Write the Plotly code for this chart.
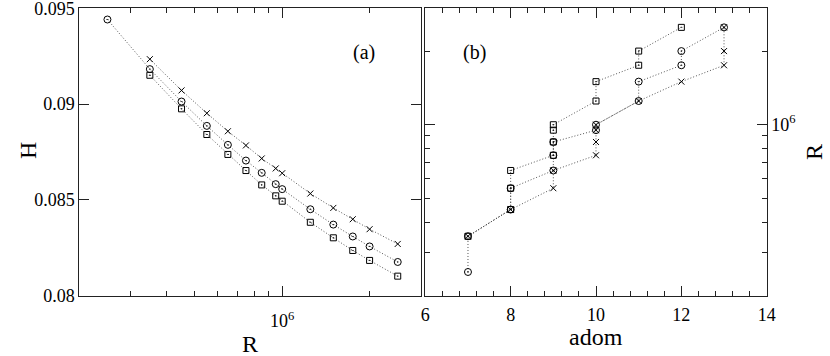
import plotly.graph_objects as go

# R values (shared by both panels)
R_VALUES = [2.5e5, 3.5e5, 4.5e5, 5.5e5, 6.5e5, 7.5e5, 8.5e5, 9.5e5, 1e6,
            1.25e6, 1.5e6, 1.75e6, 2e6, 2.5e6]

# panel (a): H vs R
H_CIRCLE = [0.09441, 0.09182, 0.09013, 0.08886, 0.08787, 0.08705, 0.08641,
            0.08582, 0.08556, 0.08451, 0.08371, 0.08309, 0.08257, 0.08176]
H_CROSS = [0.09234, 0.09071, 0.08952, 0.08858, 0.08784, 0.08716, 0.08664,
           0.08639, 0.08533, 0.08458, 0.08399, 0.08347, 0.08270]
H_SQUARE = [0.09150, 0.08975, 0.08841, 0.08737, 0.08653, 0.08578, 0.08521,
            0.08493, 0.08383, 0.08302, 0.08236, 0.08184, 0.08102]

# panel (b): adom vs R
ADOM_CIRCLE = [7, 7, 8, 8, 9, 9, 9, 10, 10, 11, 11, 12, 12, 13]
ADOM_CROSS = [7, 8, 9, 9, 10, 10, 10, 10, 11, 12, 13, 13, 13]
ADOM_SQUARE = [7, 8, 8, 8, 9, 9, 9, 9, 10, 10, 11, 11, 12]

# ticks
H_TICKS = [0.08, 0.085, 0.09, 0.095]
H_TICK_TEXT = ["0.08", "0.085", "0.09", "0.095"]
R_MAJOR = [1e6]
R_MAJOR_TEXT = ["10<sup>6</sup>"]
R_MINOR = [2e5, 3e5, 4e5, 5e5, 6e5, 7e5, 8e5, 9e5, 2e6, 3e6]
ADOM_TICKS = [6, 8, 10, 12, 14]

W, H = 830, 356
FONT = "Liberation Serif"
LINE = dict(color="#555555", width=1, dash="1px,2px")


def px_x(p):
    return p / W


def px_y(p):
    return 1 - p / H


def series(x, y, symbol, size, xa, ya):
    return go.Scatter(x=x, y=y, mode="lines+markers", line=LINE,
                      marker=dict(symbol=symbol, size=size, color="black",
                                  line=dict(color="black", width=1)),
                      xaxis=xa, yaxis=ya, showlegend=False)


graph = [
    series(R_VALUES, H_CIRCLE, "circle-open-dot", 7, "x", "y"),
    series(R_VALUES[1:], H_CROSS, "x-thin", 6, "x", "y"),
    series(R_VALUES[1:], H_SQUARE, "square-open-dot", 6, "x", "y"),
    series(ADOM_CIRCLE, R_VALUES, "circle-open-dot", 7, "x2", "y2"),
    series(ADOM_CROSS, R_VALUES[1:], "x-thin", 6, "x2", "y2"),
    series(ADOM_SQUARE, R_VALUES[1:], "square-open-dot", 6, "x2", "y2"),
]

axis_common = dict(showline=True, linecolor="#222222", linewidth=1, mirror="ticks",
                   ticks="inside", ticklen=10, tickcolor="#222222", tickwidth=1,
                   showgrid=False, zeroline=False, automargin=False,
                   ticklabeloverflow="allow",
                   tickfont=dict(family=FONT, size=18, color="black"))
minor_common = dict(ticks="inside", ticklen=5, tickcolor="#222222", tickwidth=1, showgrid=False)

left_dom = [px_x(79.3), px_x(420.7)]
right_dom = [px_x(425.3), px_x(766.7)]
y_dom = [px_y(295.7), px_y(8)]

layout = go.Layout(
    width=W, height=H,
    margin=dict(l=0, r=0, t=0, b=0),
    paper_bgcolor="white", plot_bgcolor="white",
    showlegend=False,
    xaxis=dict(axis_common, type="log", domain=left_dom, anchor="y",
               range=[5.30103, 6.47712], tickvals=R_MAJOR, ticktext=R_MAJOR_TEXT,
               ticklabelstandoff=9,
               minor=dict(minor_common, tickvals=R_MINOR)),
    yaxis=dict(axis_common, domain=y_dom, anchor="x", range=[0.08, 0.09501],
               tickvals=H_TICKS, ticktext=H_TICK_TEXT),
    xaxis2=dict(axis_common, domain=right_dom, anchor="y2", range=[6, 14],
                tickvals=ADOM_TICKS, ticklabelstandoff=3,
                minor=dict(minor_common, dtick=0.4, tick0=6)),
    yaxis2=dict(axis_common, type="log", domain=y_dom, anchor="x2", side="right",
                range=[5.30103, 6.47712], tickvals=R_MAJOR, ticktext=R_MAJOR_TEXT,
                minor=dict(minor_common, tickvals=R_MINOR)),
    annotations=[
        dict(text="(a)", x=px_x(364), y=px_y(52)),
        dict(text="(b)", x=px_x(474), y=px_y(52)),
        dict(text="H", x=px_x(28), y=px_y(151), textangle=-90, font=dict(size=24)),
        dict(text="R", x=px_x(250), y=px_y(343.5), font=dict(size=24)),
        dict(text="adom", x=px_x(596), y=px_y(337), font=dict(size=24)),
        dict(text="R", x=px_x(814), y=px_y(152), textangle=-90, font=dict(size=24)),
    ],
)
for a in layout.annotations:
    a.update(xref="paper", yref="paper", showarrow=False, xanchor="center", yanchor="middle")
    a.font.family = FONT
    a.font.color = "black"
    if a.font.size is None:
        a.font.size = 20

fig = go.Figure(data=graph, layout=layout)
# drop the default page margin so the figure fills the window exactly
fig.write_html("out.html", config={"displayModeBar": False},
               post_script="document.body.style.margin='0';")
